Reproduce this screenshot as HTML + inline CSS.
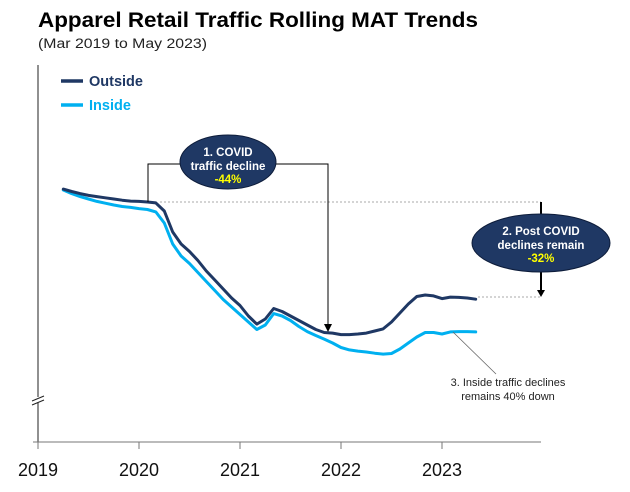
<!DOCTYPE html>
<html><head><meta charset="utf-8"><style>
html,body{margin:0;padding:0;background:#fff;width:630px;height:492px;overflow:hidden;font-family:"Liberation Sans",sans-serif}
</style></head><body>
<svg id="chart" width="630" height="492" viewBox="0 0 630 492" xmlns="http://www.w3.org/2000/svg" font-family="Liberation Sans, sans-serif">
<text x="38" y="27" font-size="21" font-weight="bold" fill="#000" textLength="440" lengthAdjust="spacingAndGlyphs">Apparel Retail Traffic Rolling MAT Trends</text>
<text x="38" y="48" font-size="13.5" fill="#222" textLength="169" lengthAdjust="spacingAndGlyphs">(Mar 2019 to May 2023)</text>
<g id="axes"></g>
<g id="series"></g>
<g id="annotations">
  <g>
    <line x1="61" y1="81" x2="83" y2="81" stroke="#1f3864" stroke-width="3.5"/>
    <text x="89" y="86" font-size="14.5" font-weight="bold" fill="#1f3864">Outside</text>
  </g>
  <g>
    <line x1="61" y1="105" x2="83" y2="105" stroke="#00b0f0" stroke-width="3.5"/>
    <text x="89" y="110" font-size="14.5" font-weight="bold" fill="#00b0f0">Inside</text>
  </g>
  <line x1="160" y1="202" x2="541" y2="202" stroke="#aaa" stroke-width="1" stroke-dasharray="2,2"/>
  <line x1="478" y1="297" x2="541" y2="297" stroke="#aaa" stroke-width="1" stroke-dasharray="2,2"/>
  <polyline points="148,202 148,164 182,164" fill="none" stroke="#000" stroke-width="1"/>
  <polyline points="274,164 328,164 328,326" fill="none" stroke="#000" stroke-width="1"/>
  <polygon points="324,324 332,324 328,332" fill="#000"/>
  <ellipse cx="228" cy="162" rx="48" ry="27" fill="#1f3864" stroke="#0d1c3a" stroke-width="1"/>
  <text x="228" y="156" text-anchor="middle" font-size="11.5" font-weight="bold" fill="#fff">1. COVID</text>
  <text x="228" y="170" text-anchor="middle" font-size="11.5" font-weight="bold" fill="#fff">traffic decline</text>
  <text x="228" y="183" text-anchor="middle" font-size="11.5" font-weight="bold" fill="#ffff00">-44%</text>
  <line x1="541" y1="202" x2="541" y2="216" stroke="#000" stroke-width="2"/>
  <line x1="541" y1="270" x2="541" y2="291" stroke="#000" stroke-width="2"/>
  <polygon points="537,290 545,290 541,297" fill="#000"/>
  <ellipse cx="541" cy="243" rx="69" ry="29" fill="#1f3864" stroke="#0d1c3a" stroke-width="1"/>
  <text x="541" y="235" text-anchor="middle" font-size="11.5" font-weight="bold" fill="#fff">2. Post COVID</text>
  <text x="541" y="249" text-anchor="middle" font-size="11.5" font-weight="bold" fill="#fff">declines remain</text>
  <text x="541" y="262" text-anchor="middle" font-size="11.5" font-weight="bold" fill="#ffff00">-32%</text>
  <line x1="453" y1="332" x2="496" y2="374" stroke="#666" stroke-width="0.8"/>
  <text x="508" y="386" text-anchor="middle" font-size="11" fill="#222">3. Inside traffic declines</text>
  <text x="508" y="400" text-anchor="middle" font-size="11" fill="#222">remains 40% down</text>
</g>
</svg>
<script>
const months = [3,4,5,6,7,8,9,10,11,12,13,14,15,16,17,18,19,20,21,22,23,24,25,26,27,28,29,30,31,32,33,34,35,36,37,38,39,40,41,42,43,44,45,46,47,48,49,50,51,52];
const outsideValues = [104.3,103.5,102.8,102.2,101.8,101.4,101,100.6,100.3,100.2,100,99.7,97,90,86,83.5,80.5,77,74,71,68,65.5,62,59.3,61,64.5,63.5,62,60.5,59,57.5,56.5,56.3,55.8,55.8,56,56.3,57,57.7,60,63,66,68.5,69,68.7,67.8,68.3,68.2,68,67.6];
const insideValues = [104,102.8,101.8,101,100.2,99.6,99,98.5,98.2,97.8,97.5,96.7,93,86,82,79.5,76.5,73.5,70.5,67.5,65,62.5,60,57.5,59,62.8,62,60.5,58.5,56.8,55.5,54.3,53,51.5,50.7,50.3,50,49.6,49.3,49.5,51,53,55,56.5,56.5,56,56.7,56.8,56.8,56.7];
const yearLabels = ["2019","2020","2021","2022","2023"];

const NS = "http://www.w3.org/2000/svg";
function xScale(m){ return 38 + m * 101 / 12; }
function yScale(v){ return 502 - v * 3.0; }
function mk(tag, attrs, parent){
  const e = document.createElementNS(NS, tag);
  for (const k in attrs) e.setAttribute(k, attrs[k]);
  parent.appendChild(e);
  return e;
}
const axes = document.getElementById('axes');
const yAxis = mk('line', {x1:38,y1:65,x2:38,y2:442,stroke:'#222','stroke-width':1}, axes);


const brk = mk('g', {}, axes);


mk('rect', {x:33,y:397,width:10,height:5,fill:'#fff'}, brk);
mk('line', {x1:32,y1:401,x2:44,y2:396,stroke:'#222','stroke-width':1}, brk);
mk('line', {x1:32,y1:405,x2:44,y2:400,stroke:'#222','stroke-width':1}, brk);
const xAxis = mk('line', {x1:33,y1:442,x2:541,y2:442,stroke:'#777','stroke-width':1}, axes);


yearLabels.forEach((lab, i) => {
  const x = xScale(i * 12);
  mk('line', {x1:x,y1:442,x2:x,y2:449,stroke:'#777','stroke-width':1}, axes);
  const t = mk('text', {x:x,y:476,'text-anchor':'middle','font-size':'18',fill:'#111'}, axes);
  t.textContent = lab;
  
  
});
const series = document.getElementById('series');
function line(vals, color, name){
  const pts = months.map((m, i) => xScale(m).toFixed(1) + ',' + yScale(vals[i]).toFixed(1)).join(' ');
  const p = mk('polyline', {points:pts,fill:'none',stroke:color,'stroke-width':3,'stroke-linejoin':'round','stroke-linecap':'round'}, series);
  
  
}
line(insideValues, '#00b0f0', 'inside-line');
line(outsideValues, '#1f3864', 'outside-line');
</script>
</body></html>
